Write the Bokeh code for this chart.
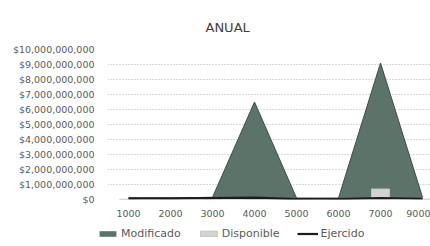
from bokeh.plotting import figure
from bokeh.layouts import column, row
from bokeh.models import (ColumnDataSource, Range1d, FixedTicker, NumeralTickFormatter,
                          Legend, LegendItem, Title)
from bokeh.embed import file_html
from bokeh.resources import INLINE

# ---- data ----
categories = ["1000", "2000", "3000", "4000", "5000", "6000", "7000", "9000"]
modificado = [0.10e9, 0.10e9, 0.15e9, 6.5e9, 0.10e9, 0.10e9, 9.1e9, 0.15e9]
disponible = [0.02e9, 0.02e9, 0.02e9, 0.04e9, 0.02e9, 0.02e9, 0.70e9, 0.02e9]
ejercido = [0.08e9, 0.08e9, 0.10e9, 0.12e9, 0.02e9, 0.02e9, 0.10e9, 0.05e9]
y_ticks = [i * 1e9 for i in range(0, 11)]

xs = list(range(len(categories)))
src = ColumnDataSource(dict(x=xs, mod=modificado, disp=disponible, eje=ejercido,
                            zero=[0] * len(xs)))

FONT = "DejaVu Sans"
TXT = "#5a5a5a"
AREA_FILL = "#5b7369"
AREA_LINE = "#3c4d46"
BAR_FILL = "#d3d3d3"
BAR_LINE = "#c4c4c4"
LINE_COL = "#1c1c1c"

p = figure(width=430, height=222, output_backend="svg", toolbar_location=None,
           x_range=Range1d(-0.5, 7.19), y_range=Range1d(0, 10e9),
           min_border_left=107, min_border_right=0, min_border_top=49, min_border_bottom=23)
p.outline_line_color = None
p.background_fill_color = "white"
p.border_fill_color = "white"

t = Title(text="ANUAL", align="left", offset=98, text_font=FONT, text_font_size="13px",
          text_color="#404040", text_font_style="normal", standoff=30)
p.add_layout(t, "above")

p.varea(x="x", y1="zero", y2="mod", source=src, fill_color=AREA_FILL)
p.line(x="x", y="mod", source=src, line_color=AREA_LINE, line_width=1)
p.vbar(x="x", top="disp", width=0.43, source=src, fill_color=BAR_FILL, line_color=BAR_LINE)
p.line(x="x", y="eje", source=src, line_color=LINE_COL, line_width=2.2)

p.xaxis.ticker = FixedTicker(ticks=xs)
p.xaxis.major_label_overrides = {i: c for i, c in zip(xs, categories)}
p.yaxis.ticker = FixedTicker(ticks=y_ticks)
p.yaxis.formatter = NumeralTickFormatter(format="$0,0")

for ax in (p.xaxis, p.yaxis):
    ax.axis_line_color = None
    ax.major_tick_line_color = None
    ax.minor_tick_line_color = None
    ax.major_label_text_font = FONT
    ax.major_label_text_font_size = "9.5px"
    ax.major_label_text_color = TXT
p.yaxis.major_label_standoff = 7
p.xaxis.major_label_standoff = 4

p.xgrid.grid_line_color = None
p.ygrid.grid_line_color = "#b5b5b5"
p.ygrid.grid_line_dash = "1 2"
p.ygrid.grid_line_width = 1

# ---- legend strip ----
q = figure(width=430, height=24, output_backend="svg", toolbar_location=None,
           x_axis_type=None, y_axis_type=None,
           x_range=Range1d(0, 1), y_range=Range1d(0, 1),
           min_border_left=0, min_border_right=0, min_border_top=0, min_border_bottom=0)
q.grid.grid_line_color = None
q.outline_line_color = None
r_area = q.varea(x=[5, 6], y1=[5, 5], y2=[6, 6], fill_color=AREA_FILL)
r_bar = q.vbar(x=[5], top=[6], bottom=[5], width=0.4, fill_color=BAR_FILL, line_color=BAR_LINE)
r_line = q.line(x=[5, 6], y=[5, 5], line_color=LINE_COL, line_width=2.2)
legend = Legend(items=[
    LegendItem(label="Modificado", renderers=[r_area]),
    LegendItem(label="Disponible", renderers=[r_bar]),
    LegendItem(label="Ejercido", renderers=[r_line]),
], orientation="horizontal", location=(97, 6), margin=0, padding=3,
    label_text_font=FONT, label_text_font_size="11px", label_text_color=TXT,
    glyph_width=21, glyph_height=7, label_height=12, label_standoff=3, spacing=17,
    border_line_color=None, background_fill_alpha=0)
q.add_layout(legend, "center")

layout = column(p, row(q, spacing=0), spacing=0)
open("out.html", "w").write(file_html(layout, INLINE))
